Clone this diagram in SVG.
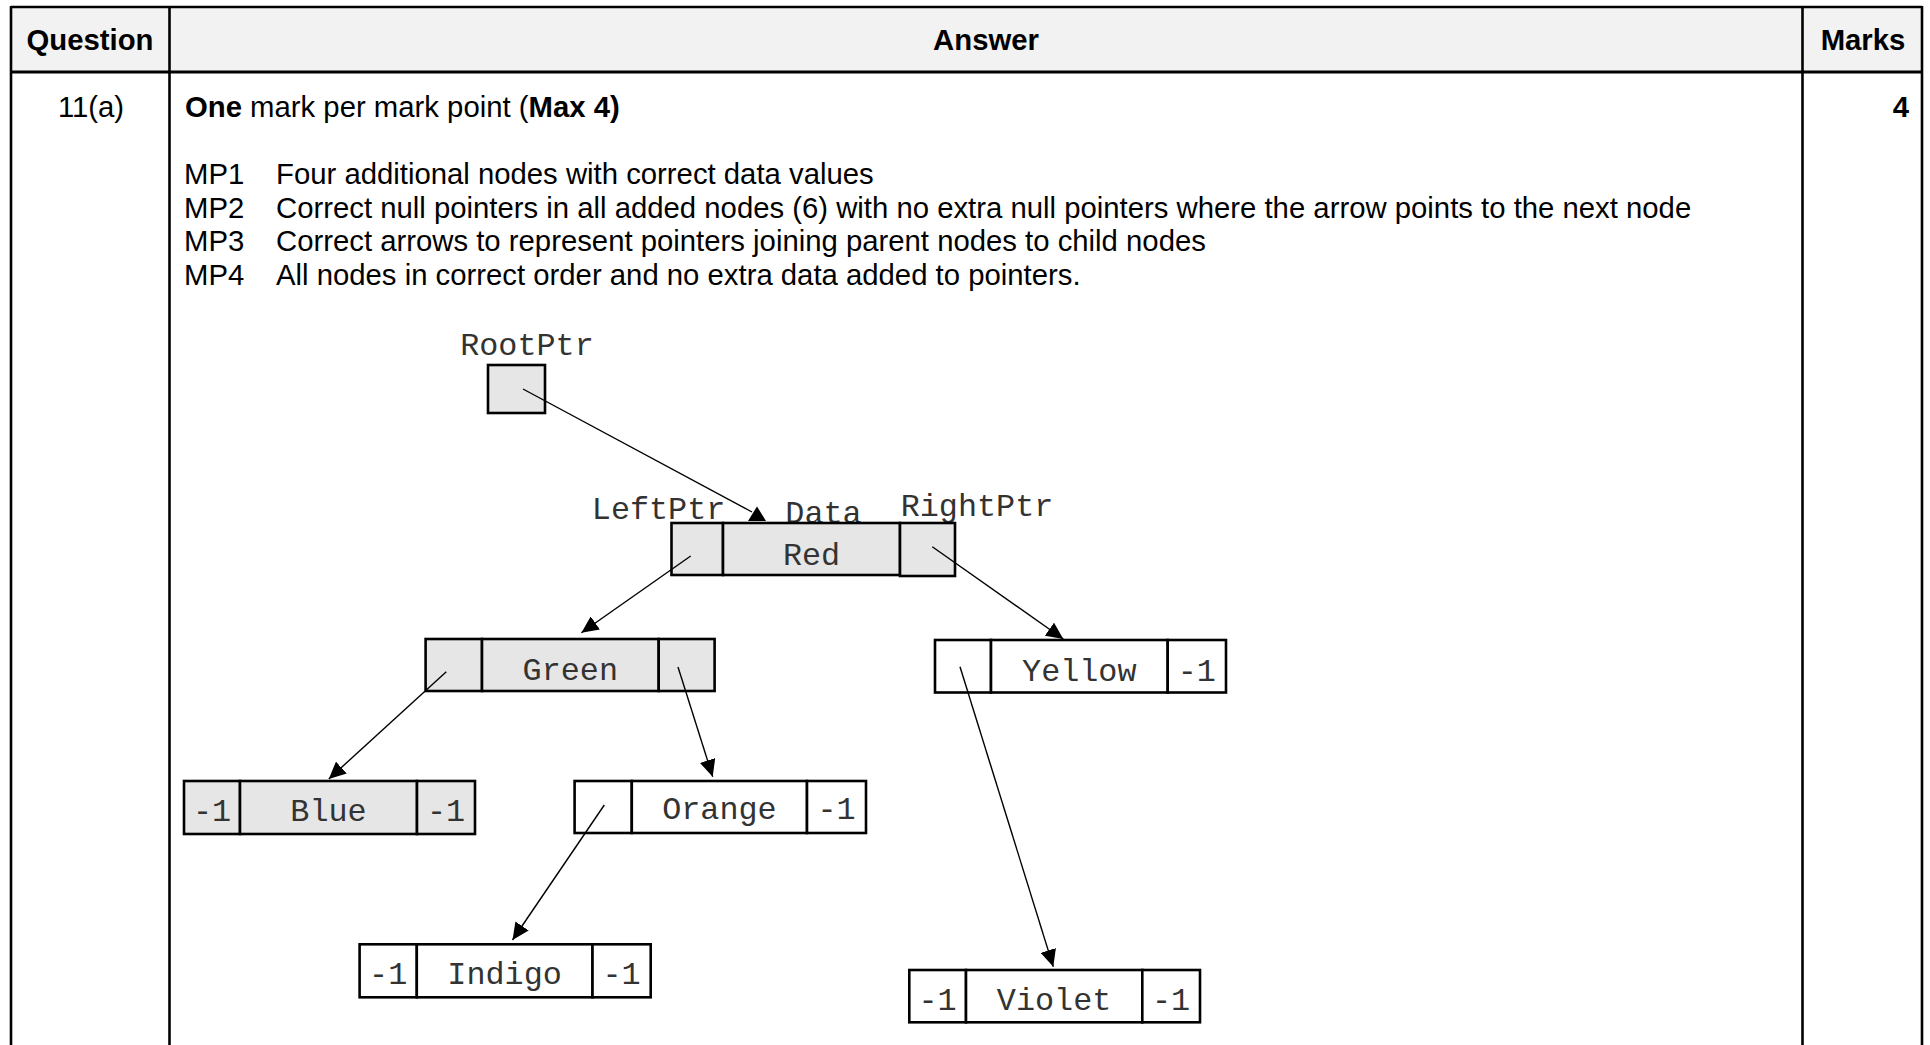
<svg xmlns="http://www.w3.org/2000/svg" width="1930" height="1045" viewBox="0 0 1930 1045">
<style>
.t{font-family:"Liberation Sans",Arial,sans-serif;font-size:29.3px;fill:#000}
.b{font-weight:bold}
.m{font-family:"Liberation Mono","Courier New",monospace;font-size:31.8px;fill:#333;text-anchor:middle}
.cg{fill:#e6e6e6;stroke:#000;stroke-width:2.6}
.cw{fill:#fff;stroke:#000;stroke-width:2.6}
.tl{stroke:#000;stroke-width:2.6;fill:none}
.c{stroke:#000;stroke-width:1.4;fill:none;marker-end:url(#ah)}
</style>
<defs>
<marker id="ah" markerUnits="userSpaceOnUse" markerWidth="18" markerHeight="16" refX="17" refY="8" orient="auto">
<path d="M0,0 L17,8 L0,16 z" fill="#000"/>
</marker>
</defs>
<rect width="1930" height="1045" fill="#fff"/>
<g id="table">
<rect x="11" y="7" width="1911" height="65" fill="#f2f2f2"/>
<line class="tl" x1="11" y1="7" x2="1922" y2="7"/>
<line class="tl" x1="11" y1="72" x2="1922" y2="72" style="stroke-width:3.2"/>
<line class="tl" x1="11" y1="6" x2="11" y2="1045"/>
<line class="tl" x1="169.5" y1="6" x2="169.5" y2="1045"/>
<line class="tl" x1="1802.5" y1="6" x2="1802.5" y2="1045"/>
<line class="tl" x1="1922" y1="6" x2="1922" y2="1045"/>
<text class="t b" x="90" y="50" text-anchor="middle">Question</text>
<text class="t b" x="986" y="50" text-anchor="middle">Answer</text>
<text class="t b" x="1863" y="50" text-anchor="middle">Marks</text>
<text class="t" x="91" y="117" text-anchor="middle">11(a)</text>
<text class="t" x="185" y="117"><tspan class="b">One</tspan> mark per mark point (<tspan class="b">Max 4)</tspan></text>
<text class="t b" x="1909" y="117" text-anchor="end">4</text>
<text class="t" x="184" y="184">MP1</text>
<text class="t" x="276" y="184">Four additional nodes with correct data values</text>
<text class="t" x="184" y="217.6">MP2</text>
<text class="t" x="276" y="217.6">Correct null pointers in all added nodes (6) with no extra null pointers where the arrow points to the next node</text>
<text class="t" x="184" y="251.2">MP3</text>
<text class="t" x="276" y="251.2">Correct arrows to represent pointers joining parent nodes to child nodes</text>
<text class="t" x="184" y="284.8">MP4</text>
<text class="t" x="276" y="284.8">All nodes in correct order and no extra data added to pointers.</text>
</g>
<g id="rootptr">
<text class="m" x="527" y="355">RootPtr</text>
<rect class="cg" x="488" y="365" width="57" height="48"/>
</g>
<g id="node-red">
<text class="m" x="658.6" y="519">LeftPtr</text>
<text class="m" x="823.5" y="523">Data</text>
<text class="m" x="977" y="516">RightPtr</text>
<rect class="cg" x="671.5" y="523" width="51.5" height="52"/>
<rect class="cg" x="723" y="523" width="177" height="52"/>
<rect class="cg" x="900" y="523" width="55" height="53"/>
<text class="m" x="811.5" y="564.5">Red</text>
</g>
<g id="node-green">
<rect class="cg" x="425.6" y="639" width="56.4" height="52"/>
<rect class="cg" x="482" y="639" width="176.7" height="52"/>
<rect class="cg" x="658.7" y="639" width="55.9" height="52"/>
<text class="m" x="570.3" y="679.5">Green</text>
</g>
<g id="node-yellow">
<rect class="cw" x="935" y="640" width="56" height="52.5"/>
<rect class="cw" x="991" y="640" width="176.7" height="52.5"/>
<rect class="cw" x="1167.7" y="640" width="58.3" height="52.5"/>
<text class="m" x="1079.3" y="680.5">Yellow</text>
<text class="m" x="1196.8" y="680.5">-1</text>
</g>
<g id="node-blue">
<rect class="cg" x="184" y="781" width="56" height="53"/>
<rect class="cg" x="240" y="781" width="177" height="53"/>
<rect class="cg" x="417" y="781" width="58" height="53"/>
<text class="m" x="212" y="820.5">-1</text>
<text class="m" x="328.5" y="820.5">Blue</text>
<text class="m" x="446" y="820.5">-1</text>
</g>
<g id="node-orange">
<rect class="cw" x="574.6" y="781" width="57.2" height="52"/>
<rect class="cw" x="631.8" y="781" width="175.2" height="52"/>
<rect class="cw" x="807" y="781" width="59" height="52"/>
<text class="m" x="719.4" y="819">Orange</text>
<text class="m" x="836.5" y="819">-1</text>
</g>
<g id="node-indigo">
<rect class="cw" x="359.6" y="944.3" width="57.2" height="53"/>
<rect class="cw" x="416.8" y="944.3" width="175.7" height="53"/>
<rect class="cw" x="592.5" y="944.3" width="58.2" height="53"/>
<text class="m" x="388.2" y="984">-1</text>
<text class="m" x="504.6" y="984">Indigo</text>
<text class="m" x="621.6" y="984">-1</text>
</g>
<g id="node-violet">
<rect class="cw" x="909.3" y="970" width="56.7" height="52.3"/>
<rect class="cw" x="966" y="970" width="176.3" height="52.3"/>
<rect class="cw" x="1142.3" y="970" width="57.7" height="52.3"/>
<text class="m" x="937.6" y="1009.5">-1</text>
<text class="m" x="1054.1" y="1009.5">Violet</text>
<text class="m" x="1171.1" y="1009.5">-1</text>
</g>
<g id="connectors">
<line x1="523" y1="389" x2="752" y2="512" stroke="#000" stroke-width="1.4"/>
<polygon points="757,506.5 748,521 766,521" fill="#000"/>
<line class="c" x1="690.7" y1="556" x2="581.4" y2="632.7"/>
<line class="c" x1="932.3" y1="546.7" x2="1063.3" y2="639"/>
<line class="c" x1="446.3" y1="671.7" x2="328.8" y2="779"/>
<line class="c" x1="678" y1="667" x2="712.7" y2="776.7"/>
<line class="c" x1="960" y1="666.7" x2="1053.3" y2="966.7"/>
<line class="c" x1="604.3" y1="805" x2="512.5" y2="940"/>
</g>
</svg>
